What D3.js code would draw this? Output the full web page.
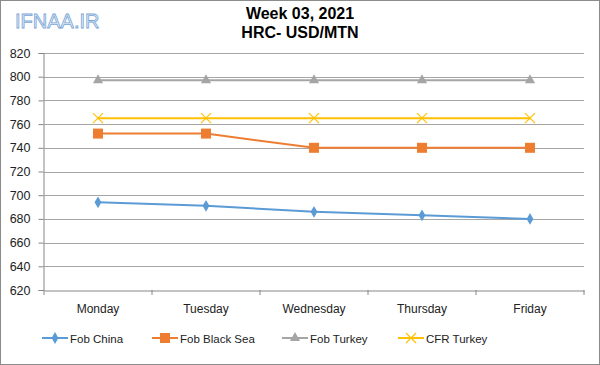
<!DOCTYPE html>
<html><head><meta charset="utf-8">
<script src="https://cdn.jsdelivr.net/npm/d3@7"></script>
<style>body{margin:0;background:#fff}svg{display:block}</style>
</head><body>
<svg id="c" width="600" height="365"></svg>
<script>
const categories = ["Monday","Tuesday","Wednesday","Thursday","Friday"];
const fobChina = [694, 691, 686, 683, 680];
const fobBlackSea = [752, 752, 740, 740, 740];
const fobTurkey = [797, 797, 797, 797, 797];
const cfrTurkey = [765, 765, 765, 765, 765];
const yTicks = [620,640,660,680,700,720,740,760,780,800,820];
const seriesNames = ["Fob China","Fob Black Sea","Fob Turkey","CFR Turkey"];
const colors = ["#5b9bd5","#ed7d31","#a5a5a5","#ffc000"];
const symbols = ["diamond","square","triangle","cross"];
const series = [fobChina, fobBlackSea, fobTurkey, cfrTurkey].map((v,i)=>({name:seriesNames[i],values:v,color:colors[i],sym:symbols[i]}));

const svg = d3.select("#c");
const font = "Arial, 'Liberation Sans', sans-serif";
svg.append("rect").attr("x",0.5).attr("y",0.5).attr("width",599).attr("height",364).attr("fill","#fff").attr("stroke","#8c8c8c");

const x = d3.scaleBand().domain(categories).range([44,584]);
const y = d3.scaleLinear().domain([620,820]).range([290,53]);

// gridlines
svg.append("g").selectAll("line").data(yTicks.slice(1)).join("line")
  .attr("x1",44).attr("x2",584).attr("y1",d=>Math.round(y(d))+0.5).attr("y2",d=>Math.round(y(d))+0.5)
  .attr("stroke","#a6a6a6").attr("stroke-width",1);

const yAxis = svg.append("g").attr("transform","translate(43.5,0)")
  .call(d3.axisLeft(y).tickValues(yTicks).tickSize(5).tickPadding(8));
yAxis.select(".domain").attr("stroke","#868686");
yAxis.selectAll(".tick line").attr("stroke","#868686");
yAxis.selectAll("text").attr("font-family",font).attr("font-size",12.5).attr("fill","#222");

const xAxis = svg.append("g").attr("transform","translate(0,290.5)")
  .call(d3.axisBottom(x).tickSize(0).tickPadding(14));
xAxis.select(".domain").attr("stroke","#868686");
xAxis.selectAll("text").attr("font-family",font).attr("font-size",12).attr("fill","#222");
// category boundary ticks
svg.append("g").selectAll("line").data(d3.range(categories.length+1)).join("line")
  .attr("x1",i=>44+i*x.step()).attr("x2",i=>44+i*x.step()).attr("y1",290).attr("y2",295)
  .attr("stroke","#868686");

const line = d3.line().x((d,i)=>x(categories[i])+x.bandwidth()/2).y(d=>y(d));
function sym(g, s, cx, cy){
  if(s.sym==="diamond") g.append("path").attr("d",d3.symbol(d3.symbolDiamond,40)()).attr("transform",`translate(${cx},${cy})`).attr("fill",s.color);
  else if(s.sym==="square") g.append("rect").attr("x",cx-5).attr("y",cy-5).attr("width",10).attr("height",10).attr("fill",s.color);
  else if(s.sym==="triangle") g.append("path").attr("d",d3.symbol(d3.symbolTriangle,45)()).attr("transform",`translate(${cx},${cy})`).attr("fill",s.color);
  else { g.append("path").attr("d",`M${cx-5},${cy-5}L${cx+5},${cy+5}M${cx-5},${cy+5}L${cx+5},${cy-5}`).attr("stroke",s.color).attr("stroke-width",1.2).attr("fill","none"); }
}
series.forEach(s=>{
  const g = svg.append("g");
  g.append("path").datum(s.values).attr("d",line).attr("fill","none").attr("stroke",s.color).attr("stroke-width",2);
  s.values.forEach((v,i)=>sym(g,s,x(categories[i])+x.bandwidth()/2,y(v)));
});

// title
svg.append("text").attr("x",300).attr("y",19).attr("text-anchor","middle").attr("font-family",font).attr("font-weight","bold").attr("font-size",16).attr("fill","#000").text("Week 03, 2021");
svg.append("text").attr("x",300).attr("y",38).attr("text-anchor","middle").attr("font-family",font).attr("font-weight","bold").attr("font-size",16).attr("fill","#000").text("HRC- USD/MTN");

// watermark
svg.append("text").attr("x",15).attr("y",28).attr("font-family",font).attr("font-size",20).attr("fill","#e3eef9").attr("stroke","#7aa6d6").attr("stroke-width",0.8).text("IFNAA.IR");

// legend
const legX = [42,152,282,398];
series.forEach((s,i)=>{
  const g = svg.append("g");
  const lx = legX[i], ly = 338;
  g.append("line").attr("x1",lx).attr("x2",lx+26).attr("y1",ly).attr("y2",ly).attr("stroke",s.color).attr("stroke-width",2);
  sym(g,s,lx+13,ly);
  g.append("text").attr("x",lx+28).attr("y",ly+4.5).attr("font-family",font).attr("font-size",11.5).attr("fill","#222").text(s.name);
});
</script>
</body></html>
